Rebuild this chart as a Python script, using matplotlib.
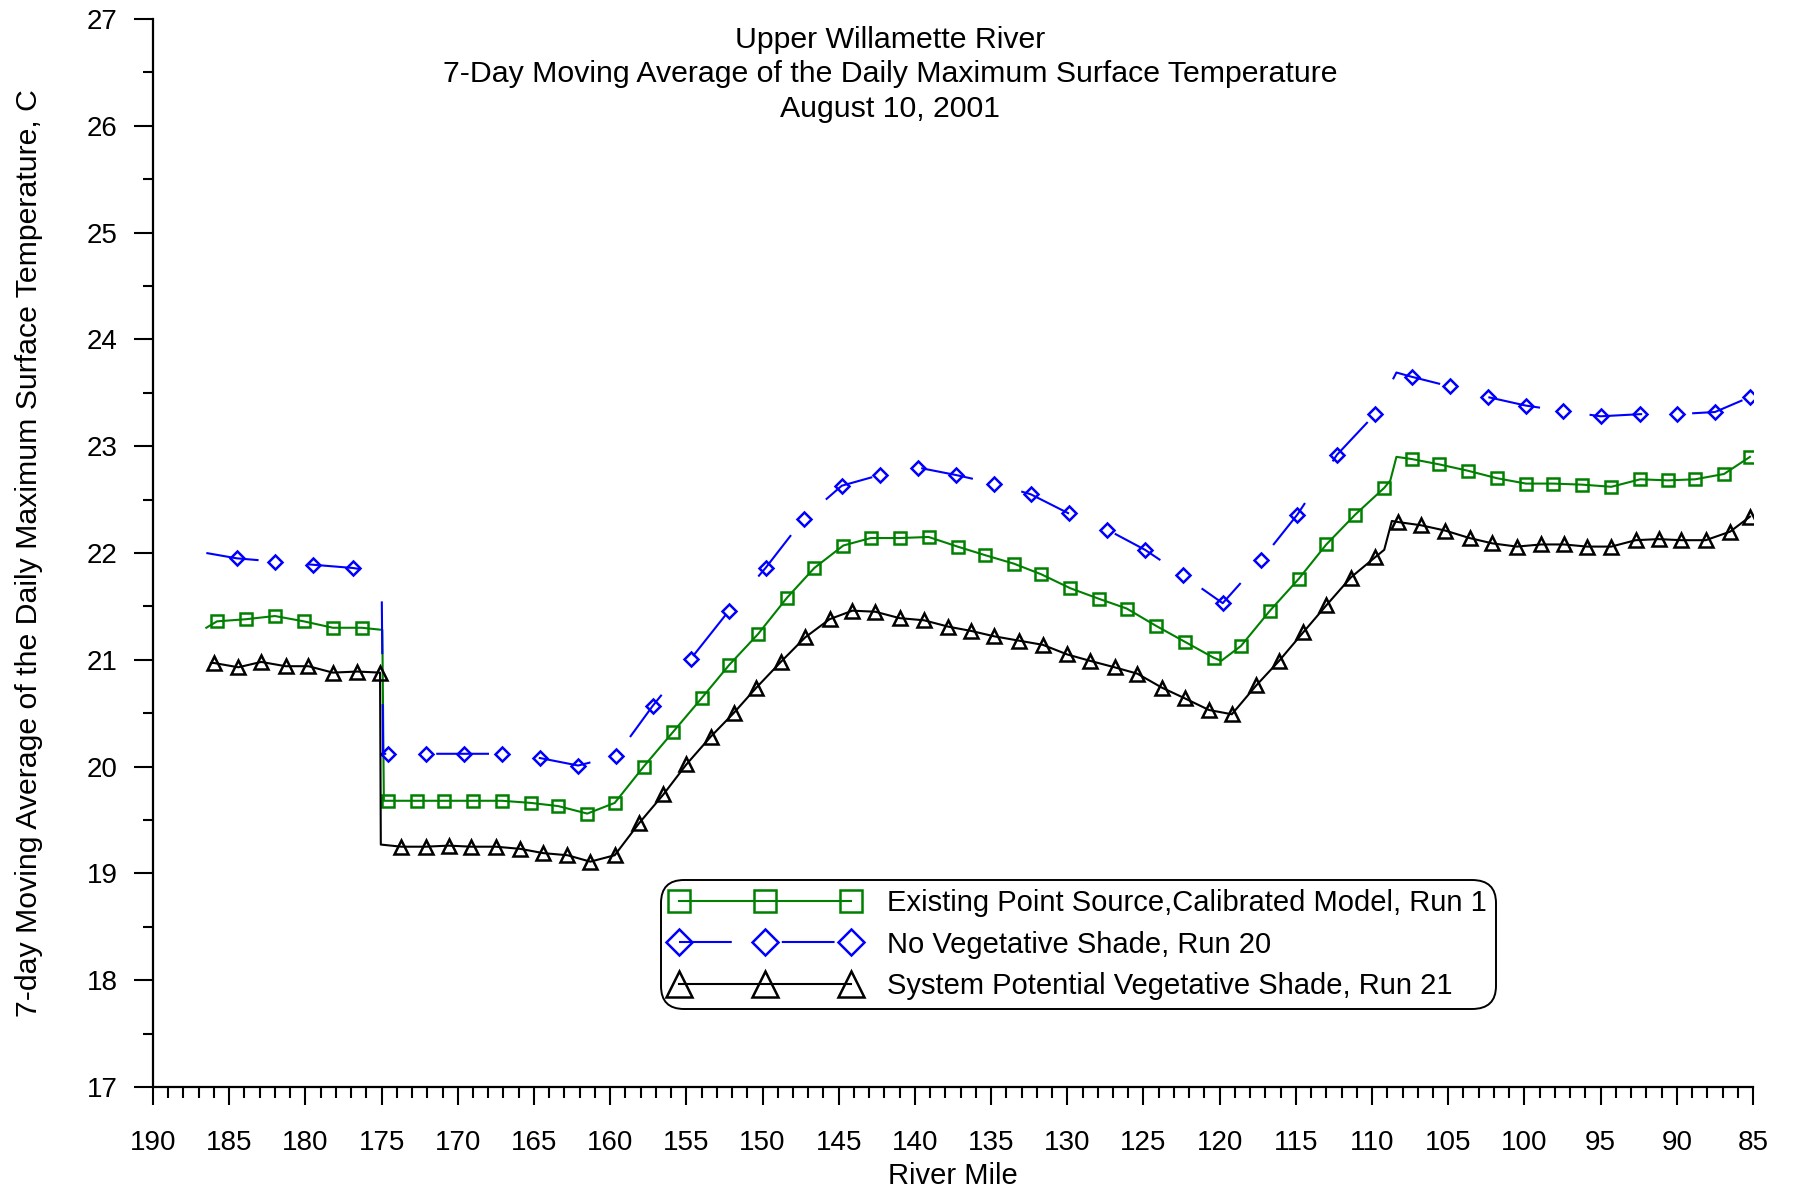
import matplotlib
matplotlib.use('Agg')
import matplotlib.pyplot as plt
from matplotlib.ticker import MultipleLocator

plt.rcParams['font.family'] = ['Liberation Sans', 'DejaVu Sans']
plt.rcParams['lines.scale_dashes'] = False

# river mile / temperature
run1_mile = [186.5, 185.8, 183.9, 182.0, 180.1, 178.2, 176.3, 174.95, 174.85, 174.6,
             172.7, 170.9, 169.0, 167.1, 165.2, 163.4, 161.5, 159.7, 157.8, 155.9,
             154.0, 152.2, 150.3, 148.4, 146.6, 144.7, 142.9, 141.0, 139.1, 137.2,
             135.4, 133.5, 131.7, 129.8, 127.9, 126.1, 124.2, 122.3, 120.4, 119.9,
             118.6, 116.7, 114.8, 113.0, 111.1, 109.2, 108.8, 108.4, 107.4, 105.6,
             103.7, 101.8, 99.9, 98.1, 96.2, 94.3, 92.4, 90.6, 88.8, 86.9, 85.2]
run1_temp = [21.30, 21.36, 21.38, 21.41, 21.36, 21.30, 21.30, 21.28, 19.68, 19.68,
             19.68, 19.68, 19.68, 19.68, 19.66, 19.63, 19.56, 19.66, 20.00, 20.32,
             20.64, 20.95, 21.24, 21.58, 21.86, 22.07, 22.14, 22.14, 22.15, 22.06,
             21.98, 21.90, 21.80, 21.67, 21.57, 21.48, 21.32, 21.17, 21.02, 20.99,
             21.13, 21.46, 21.76, 22.08, 22.36, 22.61, 22.68, 22.90, 22.88, 22.83,
             22.77, 22.70, 22.65, 22.65, 22.64, 22.62, 22.69, 22.68, 22.69, 22.74, 22.90]
run1_bends = [186.5, 174.95, 174.85, 119.9, 108.8, 108.4]

run20_mile = [186.5, 184.5, 182.0, 179.5, 176.9, 175.0, 174.9, 174.6, 172.1, 169.6,
              167.1, 164.6, 162.1, 159.6, 157.2, 154.7, 152.2, 149.8, 147.3, 144.8,
              142.3, 139.8, 137.3, 134.8, 132.4, 129.9, 127.4, 124.9, 122.4, 119.8,
              117.3, 114.9, 112.3, 109.8, 108.4, 107.4, 104.9, 102.4, 99.9, 97.5,
              95.0, 92.4, 90.0, 87.5, 85.2]
run20_temp = [22.00, 21.95, 21.92, 21.89, 21.86, 21.82, 20.12, 20.12, 20.12, 20.12,
              20.12, 20.08, 20.01, 20.10, 20.57, 21.01, 21.46, 21.86, 22.32, 22.63,
              22.73, 22.80, 22.73, 22.65, 22.55, 22.37, 22.22, 22.03, 21.79, 21.53,
              21.93, 22.36, 22.92, 23.30, 23.69, 23.65, 23.56, 23.46, 23.38, 23.33,
              23.28, 23.30, 23.30, 23.32, 23.46]
run20_bends = [186.5, 175.0, 174.9, 108.4]

run21_mile = [186.2, 186.0, 184.4, 182.9, 181.3, 179.8, 178.2, 176.6, 175.1, 175.05,
              173.7, 172.1, 170.6, 169.1, 167.5, 165.9, 164.4, 162.8, 161.3, 159.7,
              158.1, 156.5, 155.0, 153.4, 151.9, 150.4, 148.8, 147.2, 145.6, 144.1,
              142.6, 141.0, 139.4, 137.8, 136.3, 134.8, 133.2, 131.6, 130.0, 128.5,
              126.9, 125.4, 123.8, 122.3, 120.7, 119.2, 117.6, 116.1, 114.5, 113.0,
              111.4, 109.8, 109.2, 108.7, 108.3, 106.8, 105.2, 103.6, 102.1, 100.5,
              98.9, 97.4, 95.9, 94.3, 92.7, 91.2, 89.7, 88.1, 86.5, 85.2]
run21_temp = [20.97, 20.97, 20.93, 20.98, 20.94, 20.94, 20.88, 20.89, 20.88, 19.27,
              19.25, 19.25, 19.26, 19.25, 19.25, 19.23, 19.19, 19.17, 19.11, 19.17,
              19.47, 19.74, 20.02, 20.28, 20.50, 20.74, 20.98, 21.21, 21.38, 21.46,
              21.45, 21.39, 21.37, 21.31, 21.27, 21.22, 21.18, 21.14, 21.05, 20.99,
              20.93, 20.87, 20.74, 20.64, 20.53, 20.49, 20.76, 20.99, 21.26, 21.51,
              21.77, 21.96, 22.03, 22.30, 22.29, 22.26, 22.21, 22.14, 22.09, 22.06,
              22.08, 22.08, 22.06, 22.06, 22.12, 22.13, 22.12, 22.12, 22.20, 22.34]
run21_bends = [186.2, 175.05, 109.2, 108.7]

labels = ['Existing Point Source,Calibrated Model, Run 1',
          'No Vegetative Shade, Run 20',
          'System Potential Vegetative Shade, Run 21']


def marks(miles, bends):
    # markers only on the sampled points, not on the extra line vertices
    return [i for i, m in enumerate(miles) if m not in bends]


fig = plt.figure(figsize=(17.93, 11.87), dpi=100)
ax = fig.add_axes([153 / 1793, 1 - 1087 / 1187, 1600 / 1793, 1068 / 1187])

ax.plot(run1_mile, run1_temp, color='#008000', lw=1.5, marker='s', ms=8.5,
        mfc='none', mew=1.8, markevery=marks(run1_mile, run1_bends), label=labels[0])
ax.plot(run20_mile, run20_temp, color='#0000ff', lw=1.5, marker='D', ms=7,
        mfc='none', mew=1.8, dashes=(38, 36), markevery=marks(run20_mile, run20_bends),
        label=labels[1])
ax.plot(run21_mile, run21_temp, color='black', lw=1.5, marker='^', ms=9.5,
        mfc='none', mew=1.8, markevery=marks(run21_mile, run21_bends), label=labels[2])

ax.set_xlim(190, 85)
ax.set_ylim(17, 27)
ax.xaxis.set_major_locator(MultipleLocator(5))
ax.xaxis.set_minor_locator(MultipleLocator(1))
ax.yaxis.set_major_locator(MultipleLocator(1))
ax.yaxis.set_minor_locator(MultipleLocator(0.5))

for s in ['top', 'right']:
    ax.spines[s].set_visible(False)
for s in ['left', 'bottom']:
    ax.spines[s].set_linewidth(1.6)

ax.tick_params(axis='x', which='major', length=13, width=1.5, pad=18, labelsize=20)
ax.tick_params(axis='x', which='minor', length=8, width=1.5)
ax.tick_params(axis='y', which='major', length=13.5, width=1.5, pad=12, labelsize=20)
ax.tick_params(axis='y', which='minor', length=7, width=1.5)

ax.set_xlabel('River Mile', fontsize=21)
ax.xaxis.set_label_coords(0.5, -0.07)
ax.set_ylabel('7-day Moving Average of the Daily Maximum Surface Temperature, C', fontsize=21.8)
ax.yaxis.set_label_coords(-0.069, 0.5)

fig.text(0.4964, 1 - 74.5 / 1187,
         'Upper Willamette River\n7-Day Moving Average of the Daily Maximum Surface Temperature\nAugust 10, 2001',
         ha='center', va='center', fontsize=21.8, linespacing=1.3)

leg = ax.legend(loc='lower left', bbox_to_anchor=(0.3175, 0.073), borderaxespad=0,
                numpoints=3, markerscale=1.9, handlelength=6.5, handletextpad=0.95,
                borderpad=0.3, labelspacing=0.47, fontsize=21, framealpha=1,
                edgecolor='black', fancybox=True)
leg.get_frame().set_linewidth(1.4)
leg.get_frame().set_boxstyle('round', pad=0, rounding_size=0.8)

fig.savefig('out.png', dpi=100)
